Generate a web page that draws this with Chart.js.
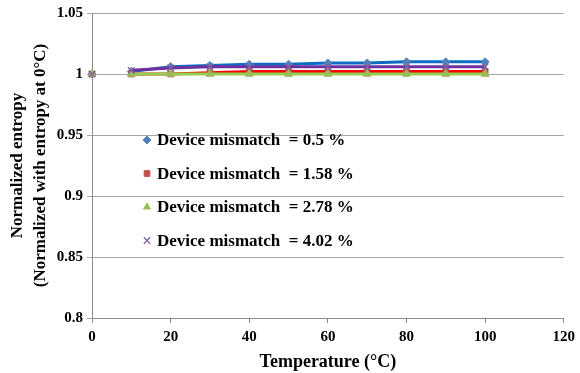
<!DOCTYPE html>
<html>
<head>
<meta charset="utf-8">
<script src="https://cdn.jsdelivr.net/npm/chart.js@4.4.1/dist/chart.umd.min.js"></script>
<style>
  html, body { margin: 0; padding: 0; background: #fff; }
  #wrap { width: 580px; height: 373px; }
</style>
</head>
<body>
<div id="wrap"><canvas id="chart"></canvas></div>
<script>
// datos
const temperaturas = [0, 10, 20, 30, 40, 50, 60, 70, 80, 90, 100];
const mismatch05 = [1, 1.002, 1.006, 1.007, 1.008, 1.008, 1.009, 1.009, 1.010, 1.010, 1.010];
const mismatch158 = [1, 1.000, 1.000, 1.001, 1.002, 1.002, 1.002, 1.002, 1.002, 1.002, 1.002];
const mismatch278 = [1, 1.000, 1.000, 1.000, 1.000, 1.000, 1.000, 1.000, 1.000, 1.000, 1.000];
const mismatch402 = [1, 1.003, 1.005, 1.006, 1.006, 1.006, 1.006, 1.006, 1.006, 1.006, 1.006];
const etiquetas = ["Device mismatch  = 0.5 %", "Device mismatch  = 1.58 %", "Device mismatch  = 2.78 %", "Device mismatch  = 4.02 %"];
const yTicks = [0.8, 0.85, 0.9, 0.95, 1, 1.05];

const fuente = "'Liberation Serif', 'Times New Roman', serif";

function puntos(vals) {
  return temperaturas.map((t, i) => ({ x: t, y: vals[i] }));
}

// el primer tramo (0 -> 10) no tiene linea
const sinPrimerTramo = ctx => ctx.p0DataIndex === 0 ? "rgba(0,0,0,0)" : undefined;

function serie(nombre, vals, linea, marca, estilo, radio, orden) {
  return {
    label: nombre,
    data: puntos(vals),
    borderColor: linea,
    borderWidth: 3,
    backgroundColor: marca,
    pointBackgroundColor: marca,
    pointBorderColor: marca,
    pointStyle: estilo,
    pointRadius: radio,
    pointBorderWidth: estilo === "crossRot" ? 1.5 : 1,
    tension: 0,
    order: orden,
    clip: false,
    segment: { borderColor: sinPrimerTramo }
  };
}

// leyenda dentro del area del grafico
const leyendaInterna = {
  id: "leyendaInterna",
  afterDraw(chart) {
    const c = chart.ctx;
    const x0 = 147, y0 = 140, paso = 33.5;
    c.save();
    chart.data.datasets.forEach((ds, i) => {
      const y = y0 + i * paso;
      c.fillStyle = ds.pointBackgroundColor;
      c.strokeStyle = ds.pointBorderColor;
      c.lineWidth = ds.pointStyle === "crossRot" ? 1.3 : 1;
      Chart.helpers.drawPoint(c, { pointStyle: ds.pointStyle, radius: ds.pointStyle === "crossRot" ? 4.5 : 4, borderWidth: c.lineWidth }, x0, y);
      c.fillStyle = "#000";
      c.font = "bold 17px " + fuente;
      c.textBaseline = "middle";
      c.fillText(etiquetas[i], x0 + 10, y + 1);
    });
    c.restore();
  }
};

new Chart(document.getElementById("chart").getContext("2d"), {
  type: "line",
  data: {
    datasets: [
      serie(etiquetas[0], mismatch05, "#0A6CC2", "#4F81BD", "rectRot", 4, 4),
      serie(etiquetas[1], mismatch158, "#FF0000", "#C0504D", "rect", 4, 3),
      serie(etiquetas[2], mismatch278, "#92D050", "#9BBB59", "triangle", 4.5, 2),
      serie(etiquetas[3], mismatch402, "#7030A0", "#8064A2", "crossRot", 4.5, 1)
    ]
  },
  options: {
    responsive: true,
    maintainAspectRatio: false,
    animation: false,
    layout: { padding: { top: 13, right: 13, left: 0, bottom: 0 } },
    plugins: {
      legend: { display: false },
      tooltip: { enabled: false }
    },
    scales: {
      x: {
        type: "linear",
        min: 0,
        max: 120,
        afterFit: s => { s.height = 55; },
        ticks: {
          stepSize: 20,
          color: "#000",
          padding: 5,
          font: { family: fuente, size: 15, weight: "bold" }
        },
        grid: { display: true, drawOnChartArea: false, tickLength: 5, color: "#8C8C8C" },
        border: { color: "#8C8C8C", width: 1 },
        title: {
          display: true,
          text: "Temperature (\u00B0C)",
          color: "#000",
          padding: { top: 0, bottom: 0 },
          font: { family: fuente, size: 18, weight: "bold" }
        }
      },
      y: {
        min: 0.8,
        max: 1.05,
        afterFit: s => { s.width = 92; },
        afterBuildTicks: s => { s.ticks = yTicks.map(v => ({ value: v })); },
        ticks: {
          color: "#000",
          padding: 4,
          callback: v => String(v),
          font: { family: fuente, size: 15, weight: "bold" }
        },
        grid: { color: "#A6A6A6", tickLength: 5, lineWidth: 1 },
        border: { color: "#8C8C8C", width: 1 },
        title: {
          display: true,
          text: ["Normalized entropy", "(Normalized with entropy at 0\u00B0C)"],
          color: "#000",
          padding: { top: 7, bottom: 2 },
          font: { family: fuente, size: 17, weight: "bold", lineHeight: 1.3 }
        }
      }
    }
  },
  plugins: [leyendaInterna]
});
</script>
</body>
</html>
